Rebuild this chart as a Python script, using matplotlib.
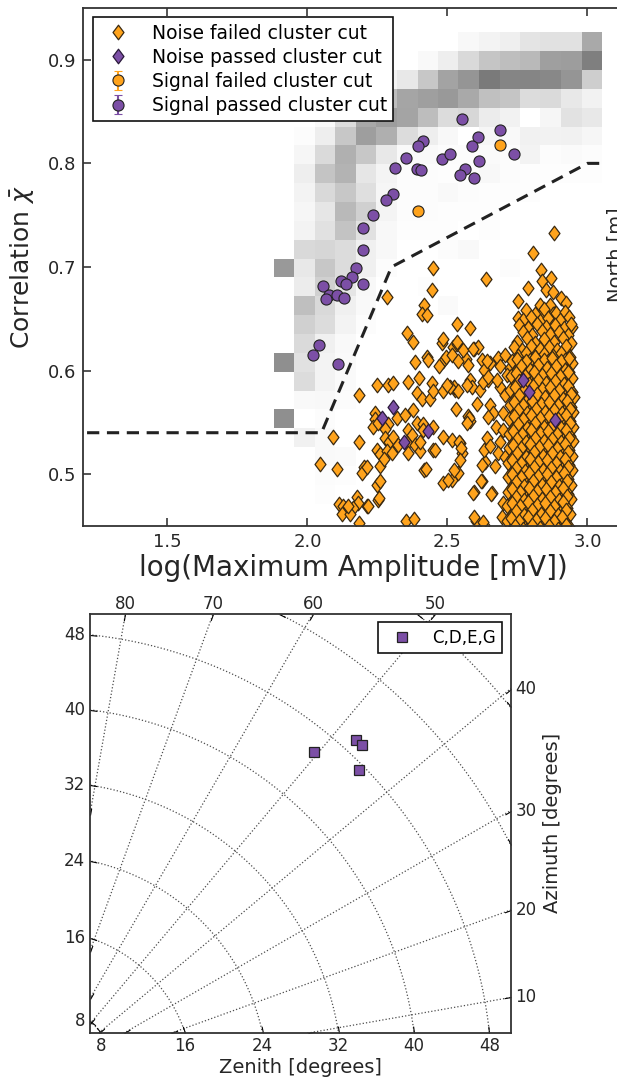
import numpy as np
import matplotlib
matplotlib.use("Agg")
import matplotlib.pyplot as plt
from matplotlib.path import Path
from matplotlib.projections import PolarAxes
from matplotlib.transforms import Affine2D
from mpl_toolkits.axisartist import HostAxes, GridHelperCurveLinear
from mpl_toolkits.axisartist import angle_helper
from mpl_toolkits.axisartist.grid_finder import FixedLocator

plt.rcParams["font.family"] = "DejaVu Sans"

ORANGE = "#ffa31c"
PURPLE = "#7c4fa6"
INK = "#262626"

# simulated-signal density behind the scatter (rows run top -> bottom)
sim_x_edges = [1.880, 1.953, 2.027, 2.100, 2.173, 2.246, 2.320, 2.393, 2.466,
               2.539, 2.613, 2.686, 2.759, 2.832, 2.906, 2.979, 3.052]
sim_y_edges = [0.9265, 0.9083, 0.8901, 0.8719, 0.8537, 0.8355, 0.8173, 0.7991,
               0.7809, 0.7627, 0.7445, 0.7263, 0.7081, 0.6899, 0.6717, 0.6535,
               0.6353, 0.6171, 0.5989, 0.5807, 0.5625, 0.5443, 0.5261, 0.5079,
               0.4897, 0.4715, 0.4533, 0.4351]
sim_density = [
    [0, 0, 0, 0, 0, 0, 0, 0, 0, .06, .10, .13, .19, .21, .21, .44],
    [0, 0, 0, 0, 0, 0, 0, .05, .14, .25, .34, .37, .39, .47, .48, .58],
    [0, 0, 0, 0, .04, .10, .17, .33, .46, .50, .60, .56, .56, .55, .50, .30],
    [0, 0, 0, .12, .245, .375, .45, .47, .49, .44, .36, .34, .235, .245, .17, .11],
    [0, 0, .05, .235, .445, .48, .455, .375, .235, .26, .15, .11, 0, .08, .20, .17],
    [0, .03, .135, .33, .475, .42, .235, .14, .06, 0, .08, .05, .12, .11, .12, .08],
    [0, .08, .245, .415, .33, .17, .05, .05, .03, .03, .04, .03, .10, .03, .04, .03],
    [0, .135, .345, .41, .18, .09, .03, .03, .02, .03, .06, .03, .02, .02, .02, .02],
    [0, .10, .25, .33, .22, .08, .03, .03, .05, .03, .02, .02, .02, 0, 0, 0],
    [0, .08, .18, .39, .29, .09, .03, .03, .02, .02, .02, 0, 0, 0, 0, 0],
    [0, .10, .21, .35, .21, .06, .02, .02, .02, 0, .02, 0, 0, 0, 0, 0],
    [0, .25, .265, .235, .125, .06, 0, 0, .03, .05, 0, 0, 0, 0, 0, 0],
    [.49, .17, .33, .235, .125, .03, 0, 0, 0, 0, 0, .03, 0, 0, 0, 0],
    [0, .15, .29, .185, .06, 0, 0, .02, 0, 0, 0, 0, 0, 0, 0, 0],
    [0, .365, .25, .125, .05, 0, 0, 0, .04, 0, 0, 0, 0, 0, 0, 0],
    [0, .29, .235, .10, .03, 0, 0, 0, 0, 0, 0, 0, 0, 0, 0, 0],
    [0, .245, .125, .05, 0, 0, 0, 0, 0, 0, 0, 0, 0, 0, 0, 0],
    [.525, .21, .10, .04, 0, 0, 0, 0, 0, 0, 0, 0, 0, 0, 0, 0],
    [0, .235, .10, .04, 0, 0, 0, 0, 0, 0, 0, 0, 0, 0, 0, 0],
    [0, .05, .06, .03, 0, 0, 0, 0, 0, 0, 0, 0, 0, 0, 0, 0],
    [.525, 0, .03, 0, 0, 0, 0, 0, 0, 0, 0, 0, 0, 0, 0, 0],
    [0, .12, .05, 0, 0, 0, 0, 0, 0, 0, 0, 0, 0, 0, 0, 0],
    [0, 0, .05, .04, 0, 0, 0, 0, 0, 0, 0, 0, 0, 0, 0, 0],
    [0, 0, .03, .02, 0, 0, 0, 0, 0, 0, 0, 0, 0, 0, 0, 0],
    [0, 0, .02, 0, 0, 0, 0, 0, 0, 0, 0, 0, 0, 0, 0, 0],
    [0, 0, 0, 0, 0, 0, 0, 0, 0, 0, 0, 0, 0, 0, 0, 0],
    [0, 0, 0, 0, 0, 0, 0, 0, 0, 0, 0, 0, 0, 0, 0, 0],
]

# selection cut
cut_x = [1.0, 2.05, 2.30, 3.00, 3.05]
cut_y = [0.54, 0.54, 0.70, 0.80, 0.80]

# signal events
sig_pass_x = [2.552, 2.688, 2.608, 2.586, 2.739, 2.411, 2.394, 2.352, 2.313, 2.392,
              2.405, 2.481, 2.509, 2.613, 2.563, 2.545, 2.596, 2.306, 2.280, 2.235,
              2.199, 2.199, 2.173, 2.158, 2.199, 2.119, 2.137, 2.054, 2.078, 2.066,
              2.104, 2.130, 2.041, 2.019, 2.108]
sig_pass_y = [0.843, 0.832, 0.825, 0.817, 0.809, 0.822, 0.817, 0.805, 0.796, 0.795,
              0.794, 0.804, 0.809, 0.802, 0.795, 0.789, 0.786, 0.770, 0.765, 0.750,
              0.738, 0.716, 0.699, 0.690, 0.684, 0.686, 0.684, 0.682, 0.673, 0.669,
              0.673, 0.670, 0.625, 0.615, 0.606]
sig_fail_x = [2.688, 2.396]
sig_fail_y = [0.818, 0.754]

# noise events that survived the cluster cut
noise_pass_x = [2.304, 2.267, 2.345, 2.429, 2.769, 2.792, 2.884]
noise_pass_y = [0.565, 0.554, 0.531, 0.542, 0.591, 0.579, 0.552]

# noise events rejected by the cluster cut
noise_fail_sparse = [
    (2.447, 0.699), (2.444, 0.678), (2.283, 0.671), (2.417, 0.663), (2.408, 0.655), (2.428, 0.654),
    (2.354, 0.636), (2.376, 0.628), (2.533, 0.645), (2.479, 0.627), (2.521, 0.623), (2.426, 0.613),
    (2.384, 0.608), (2.483, 0.609), (2.495, 0.613), (2.471, 0.604), (2.515, 0.615), (2.533, 0.626),
    (2.432, 0.610), (2.249, 0.586), (2.286, 0.586), (2.304, 0.588), (2.358, 0.589), (2.399, 0.593),
    (2.444, 0.588), (2.185, 0.576), (2.390, 0.578), (2.408, 0.573), (2.437, 0.573), (2.449, 0.580),
    (2.485, 0.580), (2.527, 0.581), (2.241, 0.559), (2.241, 0.553), (2.235, 0.546), (2.253, 0.549),
    (2.289, 0.548), (2.277, 0.544), (2.321, 0.554), (2.348, 0.557), (2.376, 0.562), (2.390, 0.549),
    (2.360, 0.543), (2.372, 0.538), (2.411, 0.548), (2.414, 0.543), (2.449, 0.546), (2.485, 0.536),
    (2.092, 0.536), (2.185, 0.531), (2.277, 0.535), (2.292, 0.531), (2.306, 0.536), (2.247, 0.523),
    (2.259, 0.519), (2.283, 0.522), (2.301, 0.520), (2.324, 0.528), (2.354, 0.530), (2.384, 0.528),
    (2.358, 0.520), (2.402, 0.522), (2.449, 0.523), (2.402, 0.531), (2.045, 0.510), (2.106, 0.505),
    (2.202, 0.507), (2.194, 0.501), (2.211, 0.507), (2.259, 0.508), (2.273, 0.515), (2.416, 0.504),
    (2.515, 0.533), (2.249, 0.490), (2.176, 0.478), (2.181, 0.472), (2.112, 0.471), (2.128, 0.469),
    (2.122, 0.462), (2.161, 0.467), (2.152, 0.462), (2.211, 0.469), (2.253, 0.475), (2.352, 0.455),
    (2.380, 0.457), (2.185, 0.453), (2.485, 0.491), (2.515, 0.494),
    (2.580, 0.641), (2.567, 0.611), (2.596, 0.621), (2.539, 0.609), (2.575, 0.605), (2.582, 0.591),
    (2.525, 0.584), (2.539, 0.580), (2.589, 0.584), (2.529, 0.563), (2.575, 0.556), (2.582, 0.551),
    (2.546, 0.530), (2.553, 0.520), (2.539, 0.501), (2.596, 0.483), (2.624, 0.493), (2.659, 0.482),
    (2.635, 0.512), (2.631, 0.523), (2.610, 0.623), (2.624, 0.610), (2.631, 0.601), (2.652, 0.607),
    (2.645, 0.591), (2.603, 0.455), (2.631, 0.451), (2.423, 0.505), (2.455, 0.523), (2.260, 0.493),
    (2.257, 0.477), (2.217, 0.469), (2.144, 0.469),
    (2.880, 0.733), (2.804, 0.713), (2.636, 0.688), (2.834, 0.697), (2.837, 0.686), (2.869, 0.689),
    (2.786, 0.680), (2.852, 0.678), (2.877, 0.676), (2.904, 0.670), (2.923, 0.665), (2.753, 0.667),
    (2.753, 0.651), (2.830, 0.663), (2.840, 0.657), (2.866, 0.663), (2.877, 0.655), (2.944, 0.642),
    (2.866, 0.649), (2.842, 0.642), (2.485, 0.630), (2.535, 0.628), (2.556, 0.620), (2.592, 0.621),
    (2.640, 0.609), (2.681, 0.612), (2.705, 0.615), (2.687, 0.604), (2.723, 0.602),
    (2.509, 0.584), (2.497, 0.586), (2.569, 0.586), (2.578, 0.554), (2.571, 0.549), (2.542, 0.531),
    (2.547, 0.525), (2.545, 0.514), (2.523, 0.504), (2.503, 0.494), (2.622, 0.509), (2.619, 0.493),
    (2.670, 0.508), (2.590, 0.482), (2.654, 0.481), (2.595, 0.459), (2.626, 0.454), (2.697, 0.472),
    (2.694, 0.459), (2.604, 0.568), (2.616, 0.581), (2.628, 0.589), (2.646, 0.594), (2.652, 0.567),
    (2.664, 0.559), (2.646, 0.555), (2.673, 0.546), (2.640, 0.535), (2.652, 0.527), (2.688, 0.531),
    (2.681, 0.520), (2.705, 0.517), (2.699, 0.543), (2.699, 0.559), (2.688, 0.584), (2.676, 0.591),
    (2.705, 0.576), (2.711, 0.596),
]
noise_fail_dense = [
    (2.781, 0.658), (2.812, 0.655), (2.846, 0.659), (2.889, 0.656), (2.921, 0.657),
    (2.768, 0.649), (2.797, 0.652), (2.829, 0.648), (2.859, 0.651), (2.903, 0.649), (2.934, 0.652),
    (2.756, 0.644), (2.786, 0.641), (2.818, 0.645), (2.851, 0.642), (2.884, 0.644), (2.915, 0.641), (2.942, 0.645),
    (2.771, 0.637), (2.801, 0.634), (2.836, 0.638), (2.866, 0.635), (2.898, 0.637), (2.929, 0.634),
    (2.748, 0.628), (2.783, 0.631), (2.814, 0.627), (2.846, 0.630), (2.879, 0.628), (2.911, 0.631), (2.940, 0.627),
    (2.737, 0.623), (2.767, 0.620), (2.798, 0.624), (2.829, 0.621), (2.861, 0.623), (2.892, 0.620), (2.924, 0.624),
    (2.752, 0.614), (2.781, 0.617), (2.813, 0.613), (2.845, 0.616), (2.876, 0.614), (2.907, 0.617), (2.938, 0.613),
    (2.731, 0.609), (2.765, 0.606), (2.796, 0.610), (2.828, 0.607), (2.859, 0.609), (2.889, 0.606), (2.921, 0.610), (2.946, 0.607),
    (2.746, 0.600), (2.778, 0.603), (2.809, 0.599), (2.841, 0.602), (2.872, 0.600), (2.903, 0.603), (2.933, 0.599),
    (2.727, 0.595), (2.760, 0.592), (2.792, 0.596), (2.823, 0.593), (2.855, 0.595), (2.886, 0.592), (2.917, 0.596), (2.945, 0.593),
    (2.741, 0.586), (2.774, 0.589), (2.806, 0.585), (2.837, 0.588), (2.868, 0.586), (2.899, 0.589), (2.930, 0.585),
    (2.724, 0.581), (2.756, 0.578), (2.788, 0.582), (2.820, 0.579), (2.851, 0.581), (2.882, 0.578), (2.914, 0.582), (2.943, 0.579),
    (2.739, 0.572), (2.771, 0.575), (2.803, 0.571), (2.834, 0.574), (2.865, 0.572), (2.896, 0.575), (2.927, 0.571), (2.952, 0.574),
    (2.722, 0.567), (2.754, 0.564), (2.786, 0.568), (2.817, 0.565), (2.848, 0.567), (2.880, 0.564), (2.911, 0.568), (2.940, 0.565),
    (2.737, 0.558), (2.769, 0.561), (2.800, 0.557), (2.832, 0.560), (2.863, 0.558), (2.894, 0.561), (2.925, 0.557), (2.950, 0.560),
    (2.721, 0.553), (2.752, 0.550), (2.784, 0.554), (2.815, 0.551), (2.846, 0.553), (2.878, 0.550), (2.909, 0.554), (2.938, 0.551),
    (2.735, 0.544), (2.767, 0.547), (2.798, 0.543), (2.830, 0.546), (2.861, 0.544), (2.892, 0.547), (2.922, 0.543), (2.949, 0.546),
    (2.719, 0.539), (2.750, 0.536), (2.782, 0.540), (2.813, 0.537), (2.844, 0.539), (2.876, 0.536), (2.907, 0.540), (2.936, 0.537),
    (2.733, 0.530), (2.765, 0.533), (2.796, 0.529), (2.828, 0.532), (2.859, 0.530), (2.890, 0.533), (2.920, 0.529), (2.948, 0.532),
    (2.718, 0.525), (2.748, 0.522), (2.780, 0.526), (2.811, 0.523), (2.842, 0.525), (2.874, 0.522), (2.905, 0.526), (2.935, 0.523),
    (2.732, 0.516), (2.763, 0.519), (2.794, 0.515), (2.826, 0.518), (2.857, 0.516), (2.888, 0.519), (2.918, 0.515), (2.946, 0.518),
    (2.717, 0.511), (2.746, 0.508), (2.778, 0.512), (2.809, 0.509), (2.840, 0.511), (2.872, 0.508), (2.903, 0.512), (2.933, 0.509),
    (2.731, 0.502), (2.761, 0.505), (2.792, 0.501), (2.824, 0.504), (2.855, 0.502), (2.886, 0.505), (2.916, 0.501), (2.944, 0.504),
    (2.716, 0.497), (2.745, 0.494), (2.776, 0.498), (2.807, 0.495), (2.838, 0.497), (2.870, 0.494), (2.901, 0.498), (2.931, 0.495),
    (2.730, 0.488), (2.759, 0.491), (2.790, 0.487), (2.822, 0.490), (2.853, 0.488), (2.884, 0.491), (2.914, 0.487), (2.942, 0.490),
    (2.715, 0.483), (2.744, 0.480), (2.774, 0.484), (2.805, 0.481), (2.836, 0.483), (2.868, 0.480), (2.899, 0.484), (2.929, 0.481),
    (2.729, 0.474), (2.758, 0.477), (2.788, 0.473), (2.820, 0.476), (2.851, 0.474), (2.882, 0.477), (2.912, 0.473), (2.940, 0.476),
    (2.714, 0.469), (2.743, 0.466), (2.772, 0.470), (2.803, 0.467), (2.834, 0.469), (2.866, 0.466), (2.897, 0.470), (2.927, 0.467),
    (2.728, 0.460), (2.757, 0.463), (2.786, 0.459), (2.818, 0.462), (2.849, 0.460), (2.880, 0.463), (2.910, 0.459), (2.938, 0.462),
    (2.713, 0.455), (2.742, 0.452), (2.771, 0.456), (2.801, 0.453), (2.832, 0.455), (2.864, 0.452), (2.895, 0.456), (2.925, 0.453),
    (2.727, 0.446), (2.756, 0.449), (2.785, 0.445), (2.816, 0.448), (2.847, 0.446), (2.878, 0.449), (2.908, 0.445), (2.936, 0.448),
]
noise_fail_core = [
    (2.747, 0.611), (2.780, 0.609), (2.812, 0.613), (2.843, 0.610), (2.874, 0.612), (2.905, 0.609), (2.934, 0.612),
    (2.762, 0.604), (2.794, 0.601), (2.825, 0.605), (2.857, 0.602), (2.888, 0.604), (2.918, 0.601),
    (2.743, 0.598), (2.776, 0.595), (2.808, 0.599), (2.839, 0.596), (2.871, 0.598), (2.902, 0.595), (2.931, 0.599),
    (2.757, 0.590), (2.790, 0.587), (2.822, 0.591), (2.852, 0.588), (2.884, 0.590), (2.915, 0.587),
    (2.740, 0.584), (2.772, 0.581), (2.804, 0.585), (2.836, 0.582), (2.867, 0.584), (2.898, 0.581), (2.929, 0.585),
    (2.755, 0.576), (2.787, 0.573), (2.819, 0.577), (2.850, 0.574), (2.881, 0.576), (2.912, 0.573), (2.940, 0.577),
    (2.738, 0.570), (2.770, 0.567), (2.802, 0.571), (2.833, 0.568), (2.864, 0.570), (2.896, 0.567), (2.926, 0.571),
    (2.753, 0.562), (2.785, 0.559), (2.816, 0.563), (2.848, 0.560), (2.879, 0.562), (2.910, 0.559), (2.938, 0.563),
    (2.736, 0.556), (2.768, 0.553), (2.800, 0.557), (2.831, 0.554), (2.862, 0.556), (2.894, 0.553), (2.924, 0.557),
    (2.751, 0.548), (2.783, 0.545), (2.814, 0.549), (2.846, 0.546), (2.877, 0.548), (2.907, 0.545), (2.936, 0.549),
    (2.735, 0.542), (2.766, 0.539), (2.798, 0.543), (2.829, 0.540), (2.860, 0.542), (2.892, 0.539), (2.922, 0.543),
    (2.749, 0.534), (2.781, 0.531), (2.812, 0.535), (2.844, 0.532), (2.875, 0.534), (2.905, 0.531), (2.934, 0.535),
    (2.733, 0.528), (2.764, 0.525), (2.796, 0.529), (2.827, 0.526), (2.858, 0.528), (2.890, 0.525), (2.920, 0.529),
    (2.748, 0.520), (2.779, 0.517), (2.810, 0.521), (2.842, 0.518), (2.873, 0.520), (2.903, 0.517), (2.932, 0.521),
    (2.732, 0.514), (2.762, 0.511), (2.794, 0.515), (2.825, 0.512), (2.856, 0.514), (2.888, 0.511), (2.918, 0.515),
    (2.746, 0.506), (2.777, 0.503), (2.808, 0.507), (2.840, 0.504), (2.871, 0.506), (2.901, 0.503), (2.930, 0.507),
    (2.731, 0.500), (2.761, 0.497), (2.792, 0.501), (2.823, 0.498), (2.854, 0.500), (2.886, 0.497), (2.916, 0.501),
    (2.745, 0.492), (2.775, 0.489), (2.806, 0.493), (2.838, 0.490), (2.869, 0.492), (2.899, 0.489), (2.928, 0.493),
    (2.730, 0.486), (2.760, 0.483), (2.790, 0.487), (2.821, 0.484), (2.852, 0.486), (2.884, 0.483), (2.914, 0.487),
    (2.744, 0.478), (2.773, 0.475), (2.804, 0.479), (2.836, 0.476), (2.867, 0.478), (2.897, 0.475), (2.926, 0.479),
    (2.729, 0.472), (2.758, 0.469), (2.788, 0.473), (2.819, 0.470), (2.850, 0.472), (2.882, 0.469), (2.912, 0.473),
    (2.743, 0.464), (2.772, 0.461), (2.802, 0.465), (2.834, 0.462), (2.865, 0.464), (2.895, 0.461), (2.924, 0.465),
    (2.728, 0.458), (2.757, 0.455), (2.787, 0.459), (2.817, 0.456), (2.848, 0.458), (2.880, 0.455), (2.910, 0.459),
    (2.742, 0.450), (2.771, 0.447), (2.801, 0.451), (2.832, 0.448), (2.863, 0.450), (2.893, 0.447), (2.922, 0.451),
]

# reconstructed arrival directions
event_zenith = [45.6, 49.5, 49.55, 47.45]
event_azimuth = [50.5, 47.4, 46.5, 44.5]
azimuth_grid = [10, 20, 30, 40, 50, 60, 70, 80]
zenith_grid = [8, 16, 24, 32, 40, 48, 56, 64]

# a slightly fat diamond
DIAMOND = Path([(0, 1), (0.75, 0), (0, -1), (-0.75, 0), (0, 1)],
               [Path.MOVETO, Path.LINETO, Path.LINETO, Path.LINETO, Path.CLOSEPOLY])

fig = plt.figure(figsize=(6.17, 10.78), dpi=100)

# ---------------- correlation vs amplitude ----------------
ax = fig.add_axes([0.1353, 0.5121, 0.8736, 0.4805])
density = np.ma.masked_equal(np.array(sim_density), 0)
ax.pcolormesh(sim_x_edges, sim_y_edges, density, cmap="Greys", vmin=0, vmax=1, zorder=0)
ax.plot(cut_x, cut_y, color="#222222", lw=2.2, dashes=(4, 2.5), zorder=1)

nf = np.array(noise_fail_sparse + noise_fail_dense + noise_fail_core)
ax.plot(nf[:, 0], nf[:, 1], ls="none", marker=DIAMOND, color=ORANGE, mec="#3a2a12",
        mew=0.9, ms=10.5, label="Noise failed cluster cut", zorder=2)
ax.plot(noise_pass_x, noise_pass_y, ls="none", marker=DIAMOND, color=PURPLE,
        mec="#2a1a3a", mew=0.9, ms=10.5, label="Noise passed cluster cut", zorder=3)
ax.errorbar(sig_fail_x, sig_fail_y, yerr=np.zeros(len(sig_fail_x)), fmt="o",
            color=ORANGE, mec="#222222", mew=0.8, ms=8, capsize=3,
            label="Signal failed cluster cut", zorder=4)
ax.errorbar(sig_pass_x, sig_pass_y, yerr=np.zeros(len(sig_pass_x)), fmt="o",
            color=PURPLE, mec="#222222", mew=0.8, ms=8, capsize=3,
            label="Signal passed cluster cut", zorder=5)

ax.set_xlim(1.2, 3.125)
ax.set_ylim(0.45, 0.95)
ax.set_xticks([1.5, 2.0, 2.5, 3.0])
ax.set_yticks([0.5, 0.6, 0.7, 0.8, 0.9])
ax.xaxis.set_major_formatter(matplotlib.ticker.FormatStrFormatter("%.1f"))
ax.yaxis.set_major_formatter(matplotlib.ticker.FormatStrFormatter("%.1f"))
ax.tick_params(direction="in", top=True, right=False, length=6, width=1.1,
               labelsize=13, colors=INK, pad=5)
for s in ax.spines.values():
    s.set_color("#333333")
    s.set_linewidth(1.3)
ax.set_xlabel("log(Maximum Amplitude [mV])", fontsize=20, color=INK, labelpad=2)
ax.set_ylabel(r"Correlation $\bar{\chi}$", fontsize=18, color=INK, labelpad=8)
leg = ax.legend(loc="upper left", numpoints=1, fontsize=13.5, fancybox=False,
                edgecolor="#111111", framealpha=1, labelspacing=0.28, borderpad=0.33)
leg.get_frame().set_linewidth(1.2)

fig.text(606 / 617, 1 - 255 / 1078, "North [m]", rotation=90, ha="left",
         va="center", fontsize=14, color=INK)

# ---------------- arrival directions ----------------
try:
    polar = PolarAxes.PolarTransform(apply_theta_transforms=False)
except TypeError:
    polar = PolarAxes.PolarTransform()
tr = Affine2D().scale(np.pi / 180, 1) + polar
finder = angle_helper.ExtremeFinderCycle(20, 20, lon_cycle=360, lat_cycle=None,
                                         lon_minmax=None, lat_minmax=(0, np.inf))


def int_labels(direction, factor, values):
    return ["%d" % round(v) for v in values]


helper = GridHelperCurveLinear(tr, extreme_finder=finder,
                               grid_locator1=FixedLocator(azimuth_grid),
                               grid_locator2=FixedLocator(zenith_grid),
                               tick_formatter1=int_labels,
                               tick_formatter2=int_labels)
ax2 = fig.add_axes([0.1455, 0.0417, 0.682, 0.389], axes_class=HostAxes,
                   grid_helper=helper)
ax2.axis["right"].major_ticklabels.set_visible(True)
ax2.axis["top"].major_ticklabels.set_visible(True)
ax2.axis["right"].get_helper().nth_coord_ticks = 0
ax2.axis["bottom"].get_helper().nth_coord_ticks = 1
ax2.set_xlim(5, 50)
ax2.set_ylim(5, 50)
ax2.grid(True, color="0.3", linestyle=":", linewidth=0.9)

for side in ("left", "right", "top", "bottom"):
    ax2.axis[side].line.set_color("#333333")
    ax2.axis[side].line.set_linewidth(1.3)
    ax2.axis[side].major_ticklabels.set_size(12)
    ax2.axis[side].major_ticklabels.set_color(INK)
    ax2.axis[side].major_ticks.set_ticksize(5)

ax2.axis["bottom"].label.set_text("Zenith [degrees]")
ax2.axis["bottom"].label.set_size(14)
ax2.axis["bottom"].label.set_color(INK)
ax2.axis["right"].label.set_text("Azimuth [degrees]")
ax2.axis["right"].label.set_size(14)
ax2.axis["right"].label.set_color(INK)
ax2.axis["right"].label.set_visible(True)

ax2.plot(event_azimuth, event_zenith, "s", transform=tr + ax2.transData,
         color=PURPLE, mec="#222222", mew=0.9, ms=7, label="C,D,E,G")
leg2 = ax2.legend(loc="upper right", numpoints=1, fontsize=12, fancybox=False,
                  edgecolor="#111111", framealpha=1, borderpad=0.4)
leg2.get_frame().set_linewidth(1.2)

fig.savefig("out.png", dpi=100)
